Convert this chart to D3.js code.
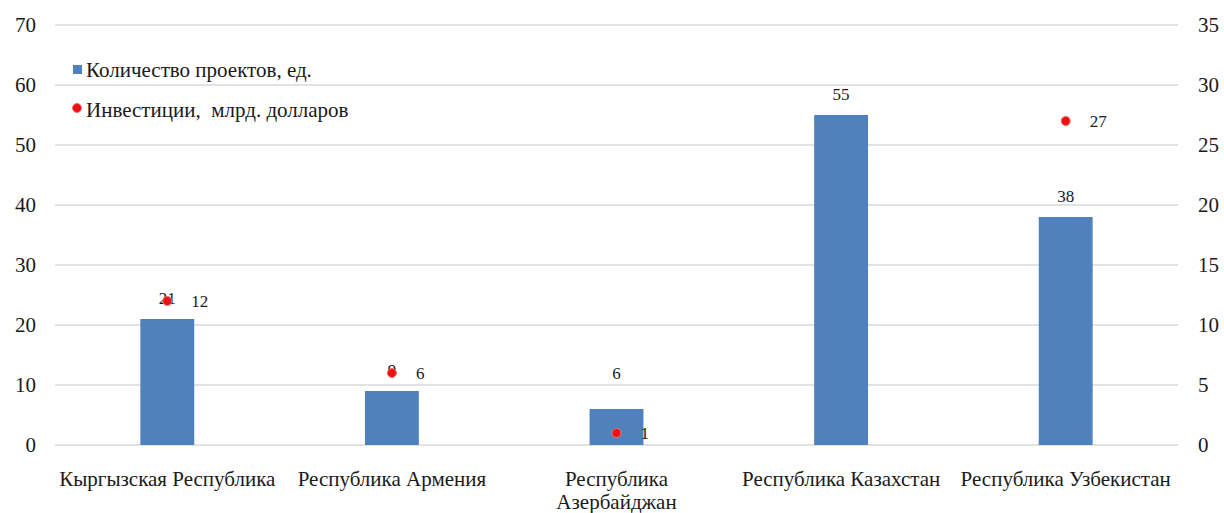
<!DOCTYPE html>
<html>
<head>
<meta charset="utf-8">
<script src="https://cdn.jsdelivr.net/npm/d3@7"></script>
<style>
  body { margin: 0; background: #fff; }
  svg text { font-family: 'Times New Roman', 'Liberation Serif', Tinos, 'DejaVu Serif', serif; fill: #1a1a1a; }
</style>
</head>
<body>
<svg id="chart" width="1224" height="513"></svg>
<script>
// categories and series
const countries = ["Кыргызская Республика", "Республика Армения", "Республика Азербайджан", "Республика Казахстан", "Республика Узбекистан"];
const projects = [21, 9, 6, 55, 38];
const investments = [12, 6, 1, null, 27];
const leftTicks = [0, 10, 20, 30, 40, 50, 60, 70];
const rightTicks = [0, 5, 10, 15, 20, 25, 30, 35];
const seriesNames = ["Количество проектов, ед.", "Инвестиции,  млрд. долларов"];

const svg = d3.select("#chart");
const margin = { left: 55, right: 46, top: 25, bottom: 68 };
const width = 1224, height = 513;
const innerW = width - margin.left - margin.right;
const innerH = height - margin.top - margin.bottom;

const g = svg.append("g").attr("transform", `translate(${margin.left},${margin.top})`);

const x = d3.scaleBand().domain(countries).range([0, innerW]);
const yL = d3.scaleLinear().domain([0, 70]).range([innerH, 0]);
const yR = d3.scaleLinear().domain([0, 35]).range([innerH, 0]);
const barW = x.bandwidth() * 0.24;
const cx = i => x(countries[i]) + x.bandwidth() / 2;

// gridlines
g.selectAll(".grid")
    .data(leftTicks)
    .enter()
    .append("line")
    .attr("x1", 0)
    .attr("x2", innerW)
    .attr("y1", d => yL(d))
    .attr("y2", d => yL(d))
    .attr("stroke", "#d9d9d9")
    .attr("stroke-width", 1.5);

// left axis
const leftAxis = g.append("g")
    .call(d3.axisLeft(yL).tickValues(leftTicks).tickSize(0).tickPadding(19));
leftAxis.select(".domain").remove();
leftAxis.attr("font-family", null);
leftAxis.selectAll("text").attr("font-size", 21);

// right axis
const rightAxis = g.append("g")
    .attr("transform", `translate(${innerW},0)`)
    .call(d3.axisRight(yR).tickValues(rightTicks).tickSize(0).tickPadding(20));
rightAxis.select(".domain").remove();
rightAxis.attr("font-family", null);
rightAxis.selectAll("text").attr("font-size", 21);

// bars
g.selectAll(".bar")
    .data(projects)
    .enter()
    .append("rect")
    .attr("class", "bar")
    .attr("x", (d, i) => cx(i) - barW / 2)
    .attr("y", d => yL(d))
    .attr("width", barW)
    .attr("height", d => innerH - yL(d))
    .attr("fill", "#4f81bd");

// bar labels
g.selectAll(".barlabel")
    .data(projects)
    .enter()
    .append("text")
    .attr("x", (d, i) => cx(i))
    .attr("y", (d, i) => yL(d) - (i === 2 ? 30 : 15))
    .attr("text-anchor", "middle")
    .attr("font-size", 17)
    .text(d => d);

// investment points
const inv = investments.map((v, i) => ({ v, i })).filter(d => d.v !== null);

g.selectAll(".dot")
    .data(inv)
    .enter()
    .append("circle")
    .attr("cx", d => cx(d.i))
    .attr("cy", d => yR(d.v))
    .attr("r", 4.5)
    .attr("fill", "#ee1111")
    .attr("stroke", "#f07070")
    .attr("stroke-width", 1);

g.selectAll(".dotlabel")
    .data(inv)
    .enter()
    .append("text")
    .attr("x", d => cx(d.i) + 24)
    .attr("y", d => yR(d.v) + 6)
    .attr("font-size", 17)
    .text(d => d.v);

// x labels
const xAxis = g.append("g")
    .attr("transform", `translate(0,${innerH})`)
    .call(d3.axisBottom(x).tickSize(0).tickPadding(0));
xAxis.select(".domain").remove();
xAxis.attr("font-family", null);
xAxis.selectAll("text").remove();
xAxis.selectAll(".tick").each(function(d) {
    const t = d3.select(this).append("text")
        .attr("text-anchor", "middle")
        .attr("font-size", 21)
        .attr("y", 41);
    const words = d === "Республика Азербайджан" ? ["Республика", "Азербайджан"] : [d];
    words.forEach((w, i) => t.append("tspan").attr("x", 0).attr("dy", i === 0 ? 0 : 23).text(w));
});

// legend
const legend = svg.append("g").attr("transform", "translate(73,70)");
legend.append("rect").attr("x", 0).attr("y", -5).attr("width", 9).attr("height", 9).attr("fill", "#4f81bd");
legend.append("text").attr("x", 13).attr("y", 7).attr("font-size", 21).text(seriesNames[0]);
legend.append("circle").attr("cx", 4).attr("cy", 38).attr("r", 4.5).attr("fill", "#ee1111").attr("stroke", "#f07070");
legend.append("text").attr("x", 13).attr("y", 47).attr("font-size", 21).style("white-space", "pre").text(seriesNames[1]);
</script>
</body>
</html>
